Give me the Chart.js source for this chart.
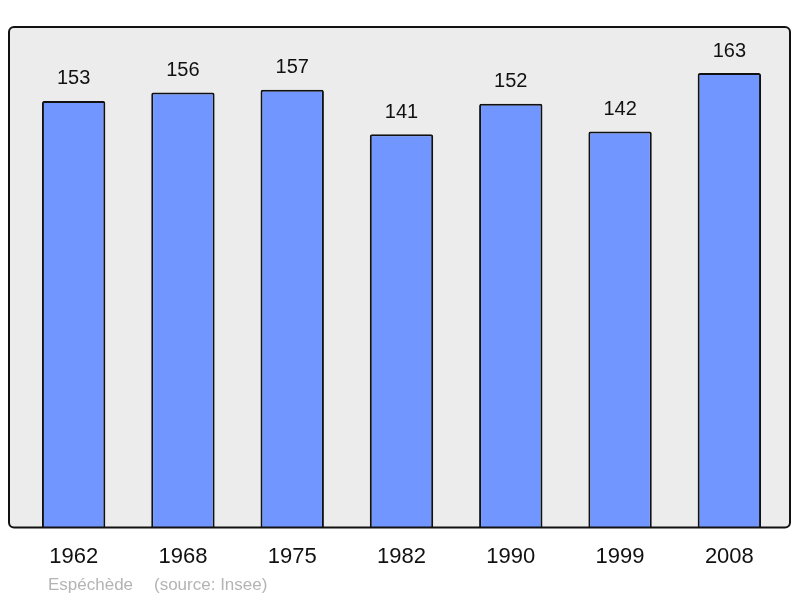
<!DOCTYPE html>
<html>
<head>
  <meta charset="utf-8">
  <title>Espéchède population</title>
  <script src="https://cdn.jsdelivr.net/npm/chart.js"></script>
  <style>
    body { margin: 0; background: #fff; }
    #wrap { width: 800px; height: 598px; }
  </style>
</head>
<body>
<div id="wrap">
  <canvas id="popChart" width="800" height="598"></canvas>
</div>
<script>
  // census years and population
  const years = ['1962', '1968', '1975', '1982', '1990', '1999', '2008'];
  const population = [153, 156, 157, 141, 152, 142, 163];
  const place = 'Espéchède';
  const source = '(source: Insee)';

  // grey rounded frame behind the bars
  const framePlugin = {
    id: 'frame',
    beforeDatasetsDraw(chart) {
      const { ctx, chartArea } = chart;
      const x = chartArea.left - 10, y = chartArea.top;
      const w = chartArea.right + 6 - x, h = chartArea.bottom - y;
      ctx.save();
      ctx.beginPath();
      ctx.roundRect(x, y, w, h, 5);
      ctx.fillStyle = '#ececec';
      ctx.fill();
      ctx.restore();
    },
    afterDatasetsDraw(chart) {
      const { ctx, chartArea } = chart;
      const x = chartArea.left - 10, y = chartArea.top;
      const w = chartArea.right + 6 - x, h = chartArea.bottom - y;
      ctx.save();
      ctx.beginPath();
      ctx.roundRect(x, y, w, h, 5);
      ctx.lineWidth = 2;
      ctx.strokeStyle = '#111';
      ctx.stroke();
      ctx.restore();
    }
  };

  // value above each bar + footer text
  const labelPlugin = {
    id: 'labels',
    afterDraw(chart) {
      const { ctx, chartArea } = chart;
      const bars = chart.getDatasetMeta(0).data;
      ctx.save();
      ctx.font = '20px "Liberation Sans", Arial, sans-serif';
      ctx.fillStyle = '#111';
      ctx.textAlign = 'center';
      ctx.textBaseline = 'bottom';
      bars.forEach((bar, i) => {
        ctx.fillText(population[i], bar.x, bar.y - 12);
      });
      ctx.font = '17px "Liberation Sans", Arial, sans-serif';
      ctx.fillStyle = '#b4b4b4';
      ctx.textAlign = 'left';
      ctx.textBaseline = 'alphabetic';
      ctx.fillText(place, chartArea.left + 29, 590);
      ctx.fillText(source, chartArea.left + 135, 590);
      ctx.restore();
    }
  };

  new Chart(document.getElementById('popChart'), {
    type: 'bar',
    data: {
      labels: years,
      datasets: [{
        data: population,
        backgroundColor: '#7196ff',
        borderColor: '#111',
        borderWidth: 2,
        borderRadius: 2,
        borderSkipped: 'bottom',
        barPercentage: 0.58,
        categoryPercentage: 1
      }]
    },
    options: {
      responsive: false,
      animation: false,
      layout: { padding: { top: 27, left: 19, right: 16, bottom: 12 } },
      plugins: {
        legend: { display: false },
        tooltip: { enabled: false }
      },
      scales: {
        x: {
          grid: { display: false, drawTicks: false },
          border: { display: false },
          ticks: {
            color: '#111',
            padding: 16,
            font: { family: '"Liberation Sans", Arial, sans-serif', size: 22 }
          }
        },
        y: {
          display: false,
          min: 0,
          max: 179.5
        }
      }
    },
    plugins: [framePlugin, labelPlugin]
  });
</script>
</body>
</html>
